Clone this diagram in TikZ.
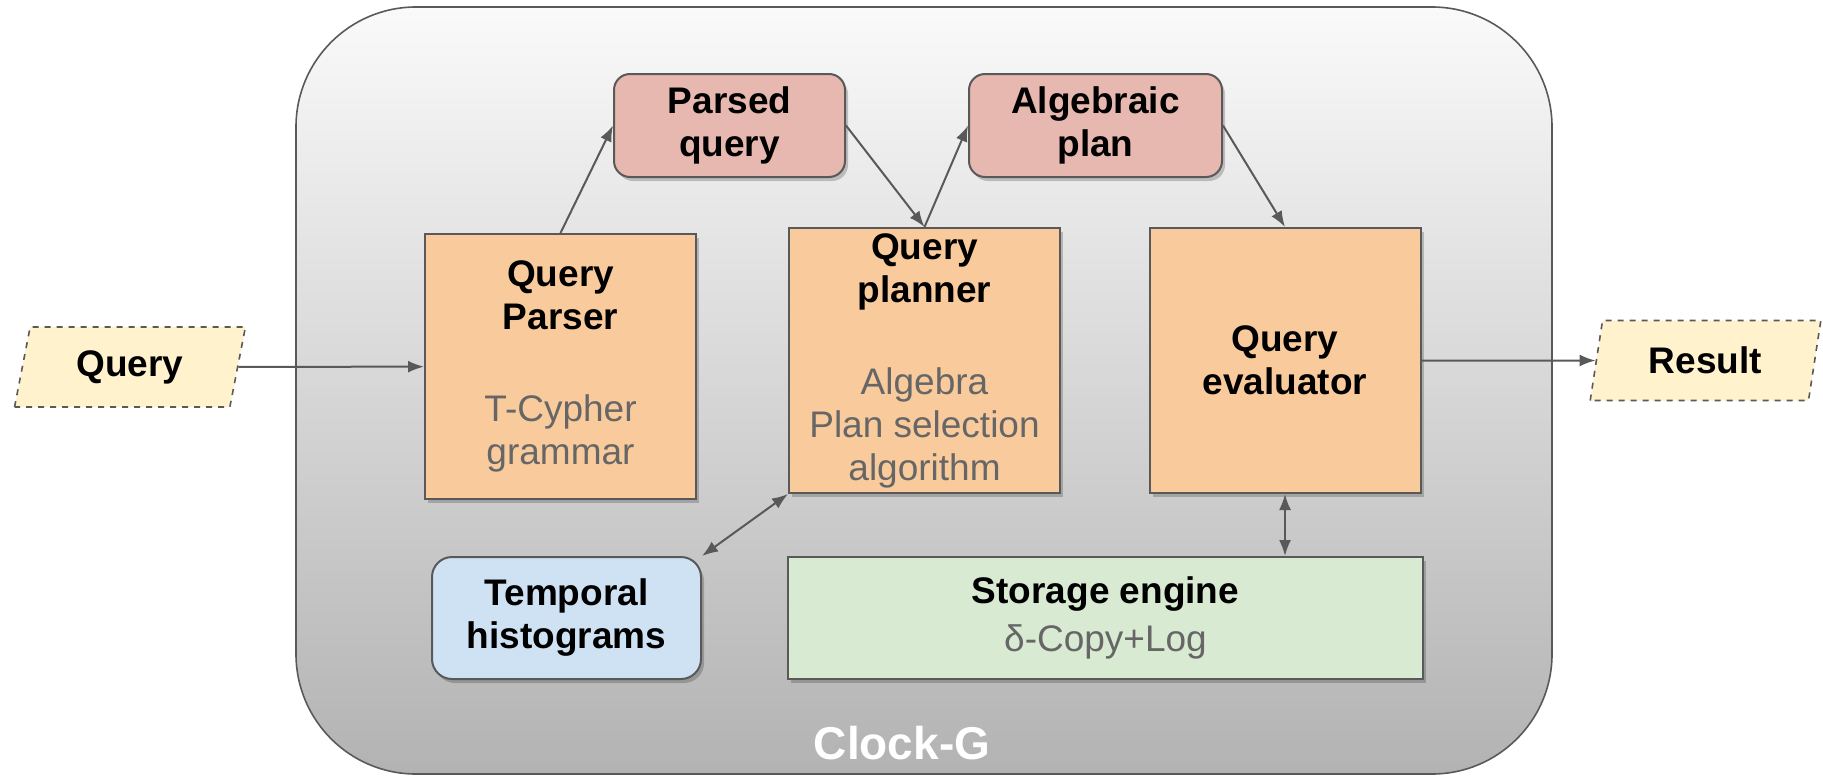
\documentclass[tikz,border=0pt]{standalone}
\usepackage{fontspec}
\setmainfont{Liberation Sans}
\usepackage{xcolor}
\usepackage{tikz}
\usetikzlibrary{shapes.geometric, shadows, arrows.meta}

\definecolor{procfill}{HTML}{F9CB9C}
\definecolor{datafill}{HTML}{E6B8AF}
\definecolor{histfill}{HTML}{CFE2F3}
\definecolor{storefill}{HTML}{D9EAD3}
\definecolor{iofill}{HTML}{FFF2CC}
\definecolor{edgegray}{HTML}{595959}
\definecolor{subgray}{HTML}{666666}

\begin{document}
\begin{tikzpicture}[x=0.5pt, y=-0.5pt, >={Latex[length=8pt, width=6pt]},
    basebox/.style={draw=edgegray, line width=1pt, align=center, inner sep=0pt, font=\fontsize{18.5}{21.5}\selectfont\bfseries},
    shadowed/.style={drop shadow={shadow xshift=1.5pt, shadow yshift=-2pt, opacity=0.2, fill=black}},
    procbox/.style={basebox, shadowed, rectangle, fill=procfill, minimum width=135.5pt, minimum height=132.5pt},
    databox/.style={basebox, shadowed, rectangle, rounded corners=8pt, fill=datafill, minimum height=51.5pt},
    iobox/.style={basebox, trapezium, trapezium left angle=76, trapezium right angle=104, trapezium stretches=true, fill=iofill, dashed, line width=0.8pt, minimum width=116pt, minimum height=40pt},
    link/.style={draw=edgegray, line width=1pt}]
    \useasboundingbox (0, 0) rectangle (1823, 776);

    % Clock-G container
    \draw[draw=edgegray, line width=0.8pt, rounded corners=60pt, top color=white!98!black, middle color=black!8, bottom color=black!30] (296, 7) rectangle (1552, 774);
    \node[text=white, font=\fontsize{23}{27}\selectfont\bfseries] at (902, 743) (clockg) {Clock-G};

    \node[iobox] at (130, 367) (query) {Query};
    \node[iobox] at (1705.5, 360.5) (result) {Result};

    \node[procbox] at (560.5, 366.5) (parser) {Query\\Parser\\[24.5pt]\textcolor{subgray}{\mdseries T-Cypher}\\\textcolor{subgray}{\mdseries grammar}};
    \node[procbox] at (924.5, 360.5) (planner) {Query\\planner\\[24.5pt]\textcolor{subgray}{\mdseries Algebra}\\\textcolor{subgray}{\mdseries Plan selection}\\\textcolor{subgray}{\mdseries algorithm}};
    \node[procbox] at (1285, 360.5) (evaluator) {Query\\evaluator};

    \node[databox, minimum width=115.5pt] at (729.5, 125.5) (parsed) {Parsed\\query};
    \node[databox, minimum width=126.5pt] at (1095.5, 125.5) (algplan) {Algebraic\\plan};

    \node[basebox, shadowed, rectangle, rounded corners=10pt, fill=histfill, minimum width=134.5pt, minimum height=61pt] at (566.5, 618) (temporal) {Temporal\\histograms};
    \node[basebox, shadowed, rectangle, fill=storefill, minimum width=317.5pt, minimum height=61pt] at (1105.5, 618) (storage) {Storage engine\\[2.5pt]\textcolor{subgray}{\mdseries δ-Copy+Log}};

    \draw[->, link] (query) -- (parser);
    \draw[->, link] (parser.north) -- (parsed.west);
    \draw[->, link] (parsed.east) -- (planner.north);
    \draw[->, link] (planner.north) -- (algplan.west);
    \draw[->, link] (algplan.east) -- (evaluator.north);
    \draw[->, link] (evaluator) -- (result);
    \draw[<->, link] (planner.south west) -- (temporal.north east);
    \draw[<->, link] (evaluator.south) -- (evaluator.south |- storage.north);
\end{tikzpicture}
\end{document}
